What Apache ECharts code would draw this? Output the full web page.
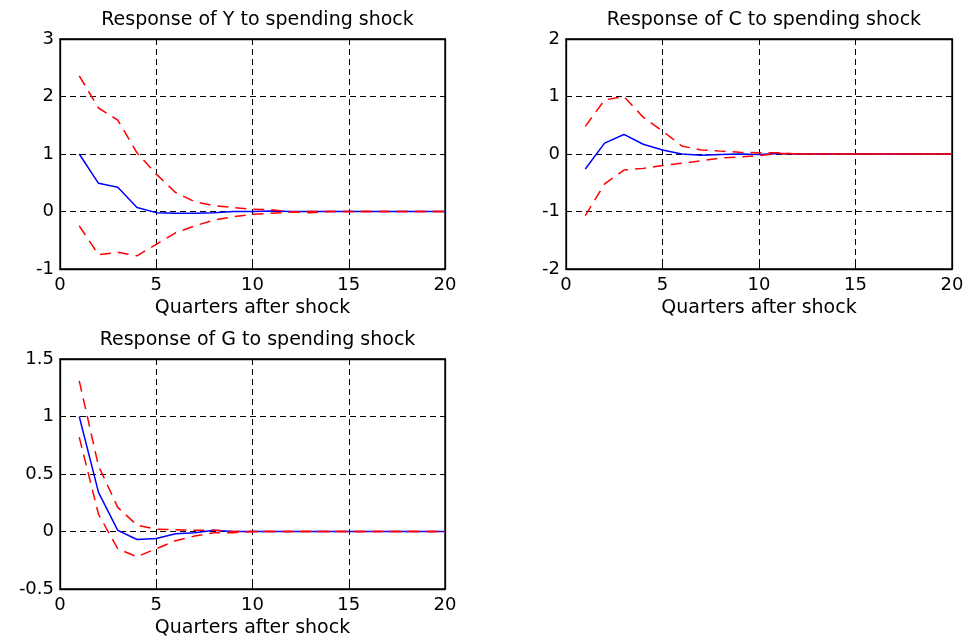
<!DOCTYPE html>
<html>
<head>
<meta charset="utf-8">
<script src="https://cdn.jsdelivr.net/npm/echarts@6/dist/echarts.min.js"></script>
<style>html,body{margin:0;padding:0;background:#fff;}#c{width:969px;height:640px;}</style>
</head>
<body>
<div id="c"></div>
<script>
var quarters = [1,2,3,4,5,6,7,8,9,10,11,12,13,14,15,16,17,18,19,20];
var titles = ['Response of Y to spending shock','Response of C to spending shock','Response of G to spending shock'];
var xAxisName = 'Quarters after shock';
var xTicks = [0,20,5];
var yTicksY = [-1,3,1];
var yTicksC = [-2,2,1];
var yTicksG = [-0.5,1.5,0.5];

var yBlue  = [1.0,0.49,0.42,0.07,-0.02,-0.03,-0.03,-0.02,0.0,0.0,0.01,0.0,0,0,0,0,0,0,0,0];
var yUpper = [2.36,1.8,1.59,1.02,0.65,0.33,0.17,0.1,0.07,0.04,0.03,-0.01,-0.02,0,0,0,0,0,0,0];
var yLower = [-0.25,-0.75,-0.71,-0.77,-0.57,-0.37,-0.25,-0.15,-0.09,-0.05,-0.03,-0.01,0,0,0,0,0,0,0,0];

var cBlue  = [-0.26,0.19,0.34,0.17,0.07,0.0,-0.02,-0.01,0,-0.01,0.01,0,0,0,0,0,0,0,0,0];
var cUpper = [0.48,0.94,1.0,0.64,0.4,0.14,0.07,0.05,0.03,0.02,0.02,0,0,0,0,0,0,0,0,0];
var cLower = [-1.07,-0.52,-0.28,-0.25,-0.2,-0.16,-0.12,-0.07,-0.05,-0.03,0.01,0,0,0,0,0,0,0,0,0];

var gBlue  = [1.0,0.34,0.01,-0.07,-0.06,-0.02,-0.01,0.01,0,0,0,0,0,0,0,0,0,0,0,0];
var gUpper = [1.31,0.57,0.21,0.055,0.02,0.015,0.01,0.01,0,0,0,0,0,0,0,0,0,0,0,0];
var gLower = [0.82,0.15,-0.15,-0.22,-0.15,-0.08,-0.04,-0.01,-0.01,0,0,0,0,0,0,0,0,0,0,0];

var FONT = 'DejaVu Sans';
var grids = [
  {left:60, top:39, width:385, height:230},
  {left:566, top:39, width:386, height:230},
  {left:60, top:359, width:385, height:230}
];
var yTicks = [yTicksY, yTicksC, yTicksG];
var panels = [[yBlue,yUpper,yLower],[cBlue,cUpper,cLower],[gBlue,gUpper,gLower]];

function pairs(vals){ return quarters.map(function(q,i){ return [q, vals[i]]; }); }

var option = {
  backgroundColor:'#fff',
  animation:false,
  title: [], grid: [], xAxis: [], yAxis: [], series: []
};
var dashGrid = {show:true, lineStyle:{color:'#000', type:[6,4], width:1}};
var frameLine = {show:true, onZero:false, lineStyle:{color:'#000', width:1.3}};
var tick = {show:true, inside:true, length:4, lineStyle:{color:'#000'}};
grids.forEach(function(g, k){
  option.grid.push({left:g.left, top:g.top, width:g.width, height:g.height, show:true, borderColor:'#000', borderWidth:1.3,
    backgroundColor:'#fff', outerBoundsMode:'none', containLabel:false});
  option.title.push({text:titles[k], left:g.left + g.width/2, top:g.top - 33, textAlign:'center',
    textStyle:{fontFamily:FONT, fontSize:19, fontWeight:'normal', color:'#000'}});
  var xa = {gridIndex:k, type:'value', min:xTicks[0], max:xTicks[1], interval:xTicks[2]};
  option.xAxis.push(Object.assign({}, xa, {position:'bottom', name:xAxisName, nameLocation:'middle', nameGap:30,
    nameTextStyle:{fontFamily:FONT, fontSize:19, color:'#000'},
    axisLine:frameLine, axisTick:tick,
    axisLabel:{fontFamily:FONT, fontSize:18, color:'#000', margin:7}, splitLine:dashGrid}));
  option.xAxis.push(Object.assign({}, xa, {position:'top',
    axisLine:frameLine, axisTick:tick, axisLabel:{show:false}, splitLine:{show:false}}));
  var ya = {gridIndex:k, type:'value', min:yTicks[k][0], max:yTicks[k][1], interval:yTicks[k][2]};
  option.yAxis.push(Object.assign({}, ya, {position:'left',
    axisLine:frameLine, axisTick:tick,
    axisLabel:{fontFamily:FONT, fontSize:18, color:'#000', margin:6}, splitLine:dashGrid}));
  option.yAxis.push(Object.assign({}, ya, {position:'right',
    axisLine:frameLine, axisTick:tick, axisLabel:{show:false}, splitLine:{show:false}}));
  var p = panels[k];
  option.series.push({type:'line', xAxisIndex:2*k, yAxisIndex:2*k, data:pairs(p[0]), showSymbol:false, symbol:'none',
    lineStyle:{color:'#0000ff', width:1.5}, z:3});
  option.series.push({type:'line', xAxisIndex:2*k, yAxisIndex:2*k, data:pairs(p[1]), showSymbol:false, symbol:'none',
    lineStyle:{color:'#ff0000', width:1.5, type:[11,7]}, z:4});
  option.series.push({type:'line', xAxisIndex:2*k, yAxisIndex:2*k, data:pairs(p[2]), showSymbol:false, symbol:'none',
    lineStyle:{color:'#ff0000', width:1.5, type:[11,7]}, z:4});
});
var chart = echarts.init(document.getElementById('c'), null, {renderer:'canvas'});
chart.setOption(option);
</script>
</body>
</html>
